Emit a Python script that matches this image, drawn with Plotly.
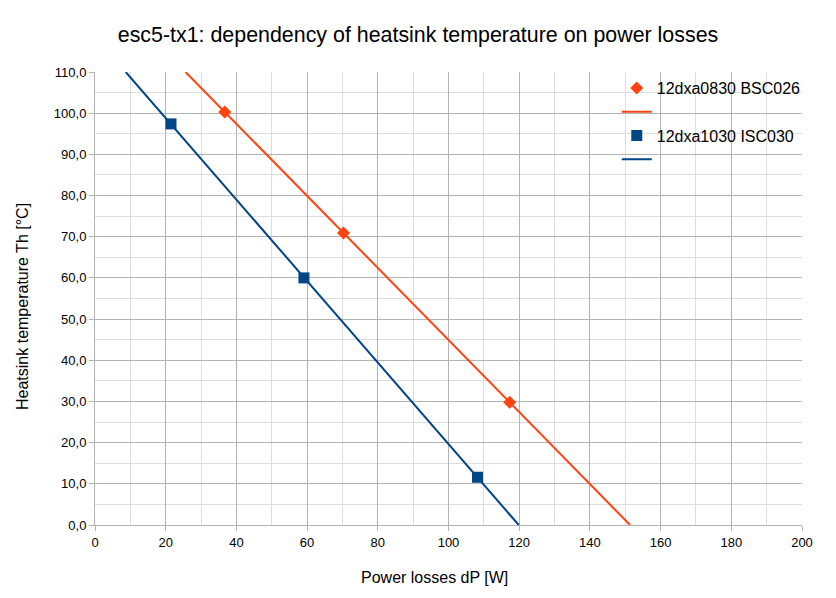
import numpy as np
import plotly.graph_objects as go

# Data
series_a_name = "12dxa0830 BSC026"
series_a_x = [36.7, 70.3, 117.3]
series_a_y = [100.3, 70.9, 29.8]

series_b_name = "12dxa1030 ISC030"
series_b_x = [21.5, 59.1, 108.2]
series_b_y = [97.4, 60.0, 11.6]

x_ticks = [0, 20, 40, 60, 80, 100, 120, 140, 160, 180, 200]
y_ticks = [0, 10, 20, 30, 40, 50, 60, 70, 80, 90, 100, 110]
y_tick_labels = ["0,0", "10,0", "20,0", "30,0", "40,0", "50,0", "60,0", "70,0", "80,0", "90,0", "100,0", "110,0"]

Y_MIN, Y_MAX = 0, 110

ORANGE = "#ff420e"
BLUE = "#004586"


def trend(xs, ys):
    m, b = np.polyfit(xs, ys, 1)
    x0 = (Y_MAX - b) / m
    x1 = (Y_MIN - b) / m
    return [x0, x1], [Y_MAX, Y_MIN]


fig = go.Figure()

tax, tay = trend(series_a_x, series_a_y)
tbx, tby = trend(series_b_x, series_b_y)

fig.add_trace(go.Scatter(x=tax, y=tay, mode="lines", line=dict(color=ORANGE, width=2),
                         name=" ", showlegend=False, hoverinfo="skip"))
fig.add_trace(go.Scatter(x=tbx, y=tby, mode="lines", line=dict(color=BLUE, width=2),
                         name=" ", showlegend=False, hoverinfo="skip"))

# legend entries in order
fig.add_trace(go.Scatter(x=series_a_x, y=series_a_y, mode="markers", name=series_a_name,
                         marker=dict(symbol="diamond", size=10, color=ORANGE)))
fig.add_trace(go.Scatter(x=[None], y=[None], mode="lines", name=" ",
                         line=dict(color=ORANGE, width=2)))
fig.add_trace(go.Scatter(x=series_b_x, y=series_b_y, mode="markers", name=series_b_name,
                         marker=dict(symbol="square", size=11, color=BLUE)))
fig.add_trace(go.Scatter(x=[None], y=[None], mode="lines", name=" ",
                         line=dict(color=BLUE, width=2)))

# page offset of the figure (default body margin)
OFF = 8
L, T, R, B = 95 - OFF, 72 - OFF, 836 - 802 + OFF, 598 - 525 + OFF
PW, PH = 836 - L - R, 598 - T - B

fig.update_layout(
    width=836, height=598,
    paper_bgcolor="white", plot_bgcolor="white",
    margin=dict(l=L, r=R, t=T, b=B, autoexpand=False),
    font=dict(family="Liberation Sans, Arial, sans-serif", color="black", size=13),
    title=dict(text="esc5-tx1: dependency of heatsink temperature on power losses",
               x=(418 - OFF) / 836, xref="container", y=1 - (35 - OFF) / 598, yref="container",
               xanchor="center", yanchor="middle",
               font=dict(size=21.4, color="black")),
    showlegend=True,
    legend=dict(x=0.738, y=1.0 + 1 / PH, xanchor="left", yanchor="top",
                bgcolor="rgba(0,0,0,0)", font=dict(size=16), tracegroupgap=0,
                itemwidth=30),
    annotations=[
        dict(text="Power losses dP [W]", xref="paper", yref="paper",
             x=(434 - 95) / PW, y=-(577 - 525) / PH, xanchor="center", yanchor="middle",
             showarrow=False, font=dict(size=16)),
        dict(text="Heatsink temperature Th [°C]", xref="paper", yref="paper",
             x=-(95 - 22) / PW, y=(525 - 307) / PH, xanchor="center", yanchor="middle",
             textangle=-90, showarrow=False, font=dict(size=16)),
    ],
)

fig.update_xaxes(range=[0, 200], tickvals=x_ticks, ticks="outside", ticklen=5,
                 tickcolor="#b3b3b3", showgrid=True, gridcolor="#b3b3b3", gridwidth=1,
                 showline=True, linecolor="#b3b3b3", zeroline=False,
                 minor=dict(dtick=10, showgrid=True, gridcolor="#dddddd", ticks=""),
                 tickfont=dict(size=13))
fig.update_yaxes(range=[0, 110], tickvals=y_ticks, ticktext=y_tick_labels, ticks="outside",
                 ticklen=5, tickcolor="#b3b3b3", showgrid=True, gridcolor="#b3b3b3",
                 gridwidth=1, showline=True, linecolor="#b3b3b3", zeroline=False,
                 minor=dict(dtick=5, showgrid=True, gridcolor="#dddddd", ticks=""),
                 tickfont=dict(size=13))

fig.write_html("out.html")
